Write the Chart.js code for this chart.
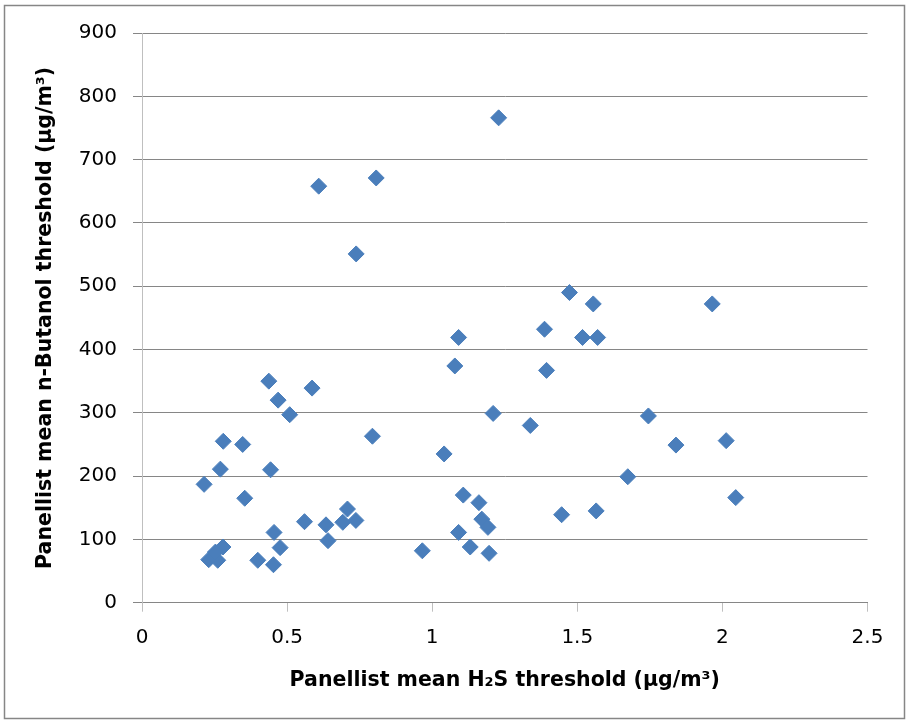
<!DOCTYPE html>
<html>
<head>
<meta charset="utf-8">
<script src="https://cdn.jsdelivr.net/npm/chart.js@4.4.1/dist/chart.umd.min.js"></script>
<style>
  body { margin: 0; background: #fff; }
  #wrap { width: 909px; height: 720px; }
</style>
</head>
<body>
<div id="wrap"><canvas id="scatterChart" width="909" height="720"></canvas></div>
<script>
// Panellist mean thresholds
const h2sMean = [
    0.609, 0.807, 0.738, 0.437, 0.586, 0.469, 0.509, 0.280, 0.347, 0.794,
    0.270, 0.443, 0.214, 0.354, 0.708, 0.560, 0.634, 0.692, 0.737, 0.455,
    0.641, 0.476, 0.279, 0.230, 0.261, 0.253, 0.399, 0.453, 0.966,
    1.229, 1.473, 1.555, 1.965, 1.091, 1.387, 1.518, 1.570, 1.078, 1.394,
    1.210, 1.338, 1.745, 1.041, 1.840, 1.674, 1.107, 1.161, 1.171, 1.192,
    1.091, 1.131, 1.196, 1.446, 1.565, 2.013, 2.046
];
const butanolMean = [
    658, 671, 551, 350, 339, 320, 297, 255, 250, 263,
    211, 210, 187, 165, 148, 128, 123, 127, 130, 111,
    98, 87, 88, 68, 67, 80, 67, 60, 82,
    766, 490, 472, 472, 419, 432, 419, 419, 374, 367,
    299, 280, 295, 235, 249, 199, 170, 158, 132, 119,
    111, 88, 78, 139, 145, 256, 166
];

// axis ticks
const xTicks = [0, 0.5, 1, 1.5, 2, 2.5];
const yTicks = [0, 100, 200, 300, 400, 500, 600, 700, 800, 900];

const xTitle = 'Panellist mean H\u2082S threshold (\u00b5g/m\u00b3)';
const yTitle = 'Panellist mean n-Butanol threshold (\u00b5g/m\u00b3)';

const points = h2sMean.map((x, i) => ({ x: x, y: butanolMean[i] }));

// outer frame like the spreadsheet chart border
const framePlugin = {
    id: 'frame',
    afterDraw(chart) {
        const ctx = chart.ctx;
        ctx.save();
        ctx.strokeStyle = '#868686';
        ctx.lineWidth = 1.5;
        ctx.strokeRect(4.5, 5.5, 900, 713);
        ctx.restore();
    }
};

const tickFont = { family: 'DejaVu Sans', size: 20 };
const titleFont = { family: 'DejaVu Sans', size: 20.5, weight: 'bold' };

new Chart(document.getElementById('scatterChart').getContext('2d'), {
    type: 'scatter',
    data: {
        datasets: [{
            data: points,
            pointStyle: 'rectRot',
            pointRadius: 8,
            pointHoverRadius: 8,
            backgroundColor: '#4A7EBB',
            borderColor: '#4A7EBB',
            borderWidth: 1
        }]
    },
    options: {
        responsive: false,
        animation: false,
        layout: { padding: { top: 33, right: 41.5, left: 0, bottom: 0 } },
        plugins: { legend: { display: false }, tooltip: { enabled: false } },
        scales: {
            x: {
                type: 'linear',
                min: xTicks[0],
                max: xTicks[xTicks.length - 1],
                afterFit: s => { s.height = 117.3; },
                afterBuildTicks: s => { s.ticks = xTicks.map(v => ({ value: v })); },
                ticks: { font: tickFont, color: '#000', padding: 14, maxRotation: 0, callback: v => String(v) },
                grid: { drawOnChartArea: false, drawTicks: true, tickLength: 9, color: '#BFBFBF' },
                border: { color: '#868686' },
                title: { display: true, text: xTitle, font: titleFont, color: '#000', padding: { top: 0, bottom: 27 } }
            },
            y: {
                min: yTicks[0],
                max: yTicks[yTicks.length - 1],
                afterFit: s => { s.width = 142; },
                afterBuildTicks: s => { s.ticks = yTicks.map(v => ({ value: v })); },
                ticks: { font: tickFont, color: '#000', padding: 16, callback: v => String(v) },
                grid: { color: '#868686', tickLength: 9 },
                border: { color: '#BFBFBF' },
                title: { display: true, text: yTitle, font: titleFont, color: '#000', padding: { top: 33, bottom: 0 } }
            }
        }
    },
    plugins: [framePlugin]
});
</script>
</body>
</html>
